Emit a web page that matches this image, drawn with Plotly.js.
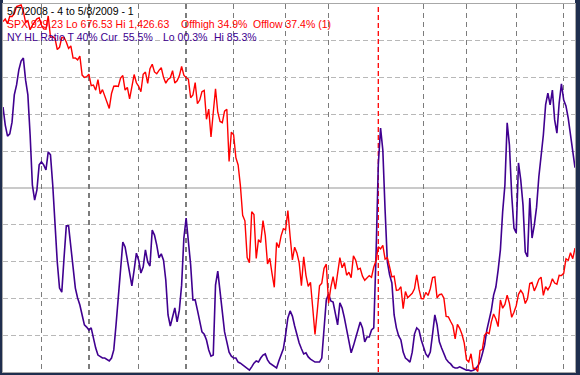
<!DOCTYPE html>
<html>
<head>
<meta charset="utf-8">
<script src="https://cdn.plot.ly/plotly-3.0.1.min.js"></script>
<style>
html,body{margin:0;padding:0;background:#ffffff;}
#chart{width:580px;height:375px;}
</style>
</head>
<body>
<div id="chart"></div>
<script>
// Trading days from 5/7/2008 to 5/8/2009 (one value per trading day)
const spxClose = [
1392.6,1397.7,1388.3,1403.6,1403.0,1408.7,1423.6,1425.4,1426.6,1413.4,1390.7,1394.4,1375.9,1385.4,1390.8,1398.3,1400.4,
1385.7,1377.7,1377.2,1404.1,1360.7,1361.8,1358.4,1335.5,1339.9,1360.0,1360.1,1350.9,1337.8,1342.8,1317.9,1318.0,1314.3,1322.0,1283.2,1278.4,1280.0,
1284.9,1261.5,1262.9,1252.3,1273.7,1244.7,1253.4,1239.5,1228.3,1214.9,1245.4,1260.3,1260.7,1260.0,1277.0,1282.2,1252.5,1257.8,1234.4,1263.2,1284.3,1267.4,
1260.3,1249.0,1284.9,1289.2,1266.1,1296.3,1305.3,1289.6,1285.8,1292.9,1298.2,1278.6,1266.7,1274.5,1277.7,1292.2,1266.8,1271.5,1281.7,1300.7,1282.8,
1277.6,1275.0,1236.8,1242.3,1267.8,1224.5,1232.0,1249.1,1251.7,1192.7,1213.6,1156.4,1206.5,1255.1,1207.1,1188.2,1185.9,1209.2,1213.3,1106.4,1166.4,
1161.1,1114.3,1099.2,1056.9,996.2,984.9,909.9,899.2,1003.4,998.0,907.8,946.4,940.6,985.4,955.1,896.8,908.1,876.8,848.9,940.5,930.1,954.1,968.8,
966.3,1005.8,952.8,904.9,931.0,919.2,899.0,852.3,911.3,873.3,850.8,859.1,806.6,752.4,800.0,851.8,857.4,887.7,896.2,
816.2,848.8,870.7,845.2,876.1,909.7,888.7,899.2,873.6,879.7,868.6,913.2,904.4,885.3,887.9,871.6,863.2,868.2,872.8,869.4,890.6,903.3,
931.8,927.5,934.7,906.7,909.7,890.4,870.3,871.8,842.6,843.7,850.1,805.2,840.2,827.5,832.0,836.6,845.7,874.1,845.1,825.9,
825.4,838.5,832.2,845.9,868.6,869.9,827.2,833.7,835.2,826.8,789.2,788.4,778.9,770.1,743.3,773.1,764.9,752.8,735.1,
700.8,696.3,712.9,682.6,683.4,676.5,719.6,721.4,750.7,756.6,753.9,778.1,794.4,784.0,768.5,822.9,806.1,813.9,832.9,815.9,787.5,797.9,
811.1,834.4,842.5,835.5,815.6,825.2,856.6,858.7,841.5,852.1,865.3,869.6,832.4,850.1,843.6,851.9,866.2,857.5,855.2,873.6,872.8,
877.5,907.2,903.8,919.5,907.4,929.2
];

// NY new-high / new-low ratio, %
const hlRatio = [
72.0,67.1,64.1,64.7,67.9,75.3,78.0,82.1,84.5,85.3,79.3,75.3,64.4,50.8,46.7,49.5,56.3,
57.1,56.3,54.9,59.8,59.0,50.8,39.1,29.9,22.8,21.7,31.0,39.7,39.7,34.5,28.3,22.8,20.1,18.2,15.5,12.8,12.2,
11.4,12.0,9.2,6.5,4.6,4.1,3.8,3.8,3.5,3.0,3.8,6.0,12.8,20.4,26.4,35.3,34.0,30.4,26.4,23.4,27.7,32.3,
30.4,26.9,28.5,33.2,29.9,28.8,38.6,37.2,34.5,31.0,32.1,30.4,25.0,15.5,12.5,15.2,17.4,13.6,16.8,23.6,36.4,
41.8,35.3,29.1,19.6,19.6,16.8,14.1,10.9,10.3,8.7,6.0,4.3,4.6,23.6,27.4,22.3,15.5,10.9,8.2,5.4,4.3,
3.8,3.8,2.7,2.4,1.9,1.4,1.1,0.5,1.4,2.4,3.0,2.7,3.8,4.6,4.9,3.3,2.4,1.9,1.4,1.1,3.0,4.6,6.3,
10.1,14.7,16.6,15.2,12.5,9.8,7.9,6.3,4.9,5.2,4.1,3.5,3.0,2.7,2.7,2.7,3.8,11.4,19.6,
21.2,19.3,19.0,15.5,12.8,18.8,17.4,14.7,11.4,8.2,5.2,7.1,9.5,11.4,13.6,12.0,8.2,9.5,9.5,11.4,12.0,31.8,
56.3,66.3,60.3,44.0,29.9,26.4,24.2,15.5,12.0,9.8,8.7,5.4,3.8,3.3,2.7,5.4,10.3,12.0,11.4,8.7,
6.5,4.9,4.1,5.4,10.3,15.5,12.8,8.2,6.5,4.9,3.5,2.7,2.2,1.4,1.1,1.1,1.4,1.1,0.8,
0.5,0.5,0.3,0.5,0.8,1.6,2.7,4.9,7.3,11.4,14.1,16.8,20.9,23.1,27.7,33.2,43.5,50.8,67.7,61.7,48.1,39.1,
37.8,56.8,52.2,45.4,32.6,31.3,47.3,36.4,39.9,44.8,53.0,59.0,64.4,72.6,75.8,72.6,76.6,68.5,64.9,73.1,78.3,
73.9,72.3,69.0,64.4,59.0,55.5
];

// Month-start trading-day indices (vertical grid) and the year boundary
const monthStartIdx = [17,38,60,81,102,125,144,186,205,227,248];
const yearStartIdx = [166];
const pctTicks = [10,20,30,40,60,70,80,90];
const midTick = [50];

const spxLo = 676.53, spxHi = 1426.63;

// header text pieces
const headerLine1 = ["5/7/2008 - 4 to 5/8/2009 - 1"];
const headerLine2 = ["SPX 929.23 Lo 676.53 Hi 1,426.63", "Offhigh 34.9%", "Offlow 37.4% (1)"];
const headerLine3 = ["NY HL Ratio T 40% Cur", "55.5%", "Lo 00.3%", "Hi 85.3%"];
const headerColors = ["#000000", "#ff0000", "#400090"];

const days = spxClose.map((_, i) => i);

const traces = [
  {x: days, y: hlRatio, type: 'scatter', mode: 'lines', yaxis: 'y',
   line: {color: '#400090', width: 1.6}, hoverinfo: 'skip'},
  {x: days, y: spxClose, type: 'scatter', mode: 'lines', yaxis: 'y2',
   line: {color: '#ff0000', width: 1.4}, hoverinfo: 'skip'}
];

const H = 368, W = 572;
const shapes = [];
shapes.push({type:'rect', xref:'paper', yref:'paper', x0:0, x1:1, y0:1, y1:1+5/H,
  fillcolor:'#ffffff', line:{width:0}, layer:'below'});
midTick.forEach(v => shapes.push({type:'line', xref:'paper', yref:'y', x0:0, x1:1, y0:v, y1:v,
  line:{color:'#b8b8b8', width:1.5}, layer:'below'}));
yearStartIdx.forEach(v => shapes.push({type:'line', xref:'x', yref:'paper', x0:v, x1:v, y0:0, y1:1,
  line:{color:'#ff0000', width:1.3, dash:'5px,3px'}, layer:'below'}));

const piecePx = [[6], [6, 180, 252], [6, 122, 162, 213]];
const annotations = [];
[headerLine1, headerLine2, headerLine3].forEach((line, k) => {
  line.forEach((t, j) => annotations.push({
    xref:'paper', yref:'paper', x: (piecePx[k][j] - 4)/W, y: 1 - (7 + 13*k)/H,
    xanchor:'left', yanchor:'middle', showarrow:false, text:t,
    font:{family:'Liberation Sans, Arial, sans-serif', size:10.5, color:headerColors[k]}
  }));
});

const layout = {
  width:580, height:375,
  margin:{l:3, r:5, t:4, b:3, pad:0},
  paper_bgcolor:'#1f2e4e', plot_bgcolor:'#ffffff',
  showlegend:false,
  xaxis:{range:[0,253], tickvals:monthStartIdx, showticklabels:false, ticks:'',
    showgrid:true, gridcolor:'#7c7c7c', gridwidth:1.3, griddash:'5px,4px', zeroline:false,
    showline:true, mirror:true, linecolor:'#a8a8a8', linewidth:1, fixedrange:true},
  yaxis:{range:[0,100], tickvals:pctTicks, showticklabels:false, ticks:'',
    showgrid:true, gridcolor:'#b8b8b8', gridwidth:1.3, griddash:'5px,3px', zeroline:false,
    showline:true, mirror:true, linecolor:'#a8a8a8', linewidth:1, fixedrange:true},
  yaxis2:{range:[spxLo - 1, spxHi + 2], overlaying:'y', side:'right', visible:false, fixedrange:true},
  shapes: shapes,
  annotations: annotations
};

Plotly.newPlot('chart', traces, layout, {staticPlot:true, displayModeBar:false});
</script>
</body>
</html>
